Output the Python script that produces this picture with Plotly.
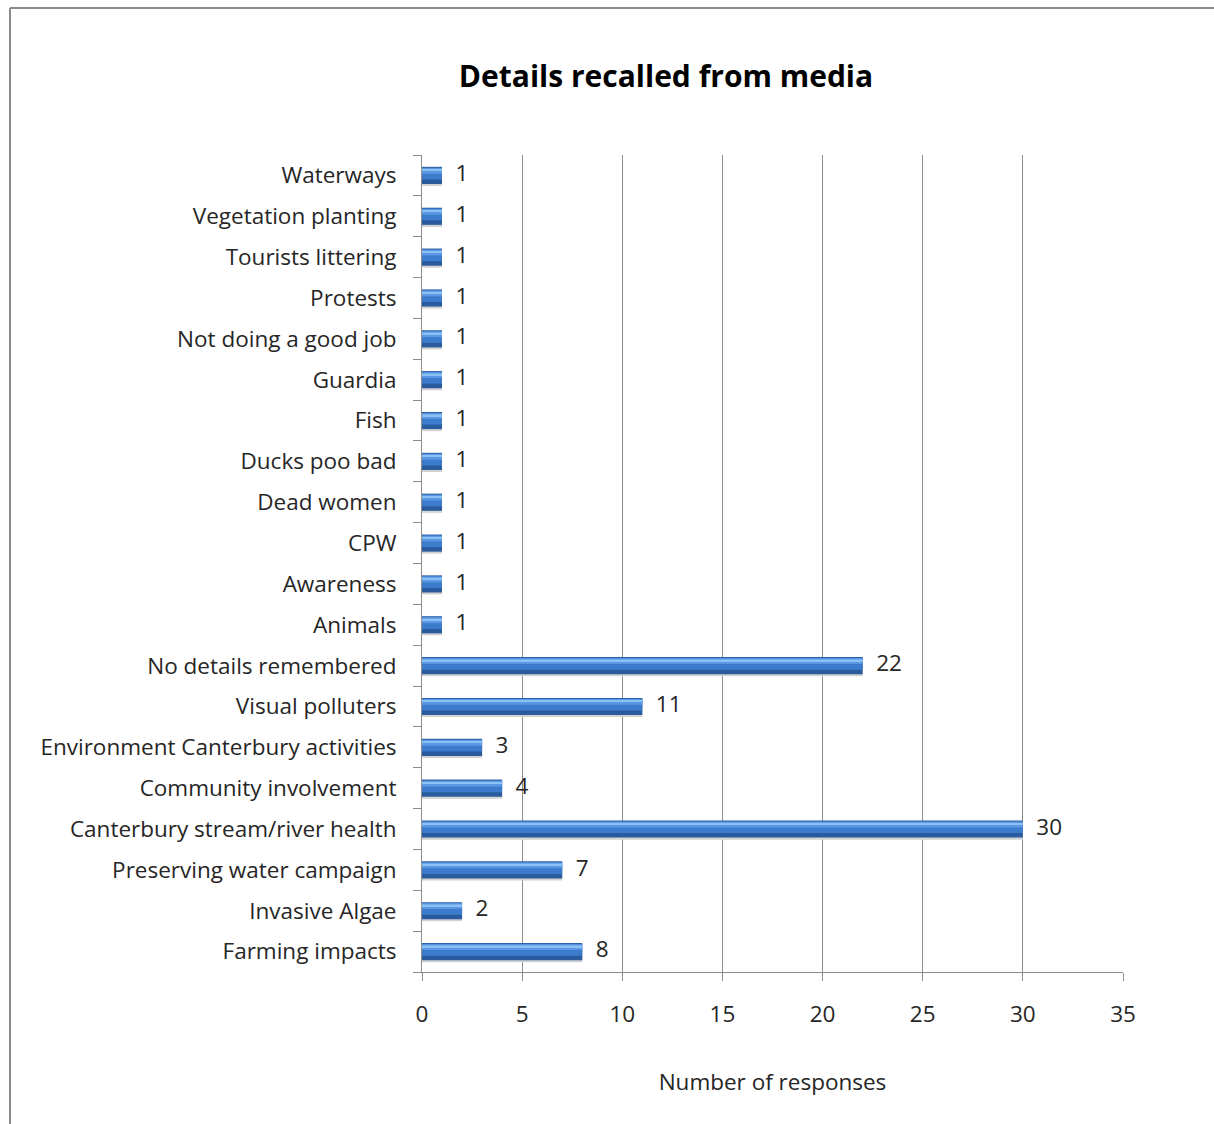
import plotly.graph_objects as go

categories = [
    "Farming impacts", "Invasive Algae", "Preserving water campaign",
    "Canterbury stream/river health", "Community involvement",
    "Environment Canterbury activities", "Visual polluters",
    "No details remembered", "Animals", "Awareness", "CPW", "Dead women",
    "Ducks poo bad", "Fish", "Guardia", "Not doing a good job", "Protests",
    "Tourists littering", "Vegetation planting", "Waterways",
]
values = [8, 2, 7, 30, 4, 3, 11, 22, 1, 1, 1, 1, 1, 1, 1, 1, 1, 1, 1, 1]
x_ticks = [0, 5, 10, 15, 20, 25, 30, 35]

W, H = 1214, 1124
L, R, T, B = 422, 1123, 155, 972  # plot area in pixels
FONT = "Open Sans, sans-serif"
FS = 22.5

fig = go.Figure()
# 3D-ish bar layers (bottom shadow, dark base, mid, light, highlight)
layers = [
    ("#D2D2D2", 0.44, -0.26),
    ("#2A5B9E", 0.42, -0.21),
    ("#3D7CCD", 0.29, -0.10),
    ("#5A98E4", 0.14, 0.04),
    ("#8DC0F5", 0.04, 0.11),
]
for color, w, off in layers:
    fig.add_trace(go.Bar(y=categories, x=values, orientation="h", width=w, offset=off,
                         marker=dict(color=color, line=dict(width=0)), hoverinfo="skip"))
# data labels
fig.add_trace(go.Scatter(y=categories, x=values, mode="text",
                         text=["\u2002\u200a" + str(v) for v in values],
                         textposition="middle right",
                         textfont=dict(family=FONT, size=FS, color="#262626"),
                         hoverinfo="skip", cliponaxis=False))

def px_x(p):
    return (p - L) / (R - L)

def px_y(p):
    return (B - p) / (B - T)

shapes = [
    dict(type="line", xref="paper", yref="paper", x0=px_x(10), x1=px_x(10), y0=px_y(8), y1=px_y(H + 5),
         line=dict(color="#8A8A8A", width=2)),
    dict(type="line", xref="paper", yref="paper", x0=px_x(10), x1=px_x(W + 5), y0=px_y(8), y1=px_y(8),
         line=dict(color="#8A8A8A", width=2)),
]

fig.update_layout(
    width=W, height=H,
    margin=dict(l=L, r=W - R, t=T, b=H - B, pad=0),
    barmode="overlay",
    showlegend=False,
    plot_bgcolor="white", paper_bgcolor="white",
    font=dict(family=FONT, size=FS, color="#262626"),
    title=dict(text="<b>Details recalled from media</b>", x=666 / W, xref="container", xanchor="center",
               y=1 - 76 / H, yref="container", yanchor="middle",
               font=dict(family=FONT, size=30, color="#000000")),
    shapes=shapes,
    xaxis=dict(range=[0, 35], tickvals=x_ticks, ticktext=[str(t) for t in x_ticks],
               showgrid=True, gridcolor="#8C8C8C", gridwidth=1, zeroline=False,
               showline=True, linecolor="#8C8C8C", linewidth=1,
               ticks="outside", ticklen=8, tickcolor="#8C8C8C",
               tickfont=dict(size=FS), ticklabelstandoff=14,
               title=dict(text="Number of responses", standoff=46, font=dict(size=FS))),
    yaxis=dict(categoryorder="array", categoryarray=categories,
               range=[-0.5, len(categories) - 0.5],
               showgrid=False, zeroline=False,
               showline=True, linecolor="#8C8C8C", linewidth=1,
               ticks="outside", ticklen=8, tickcolor="#8C8C8C", tickson="boundaries",
               tickfont=dict(size=FS), ticklabelstandoff=20),
)

fig.write_html("out.html")
